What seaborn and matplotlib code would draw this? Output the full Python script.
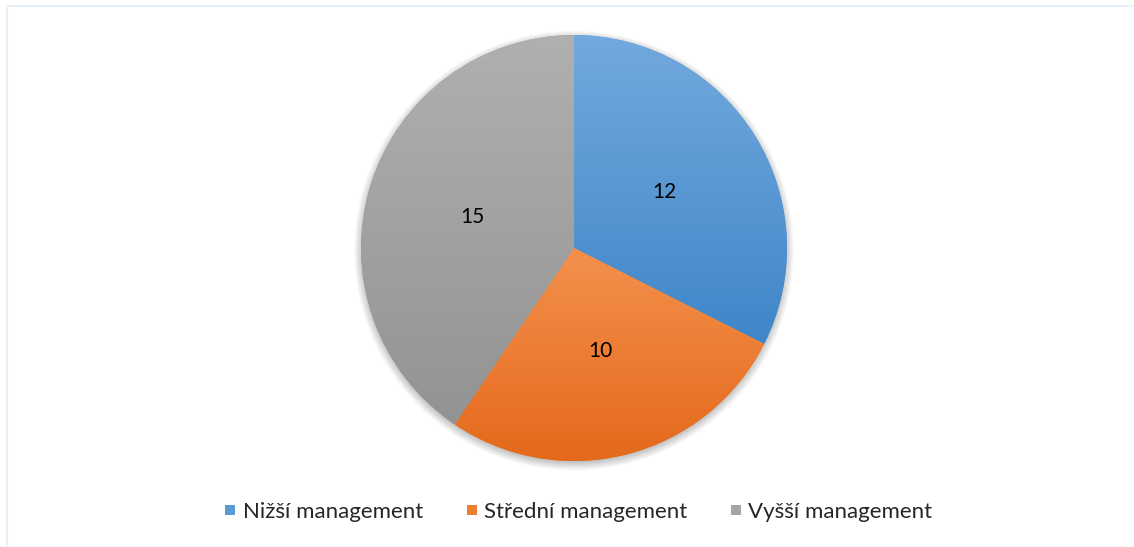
import numpy as np
import matplotlib.pyplot as plt
import matplotlib.patches as mpatches
from matplotlib.lines import Line2D
from matplotlib.colors import LinearSegmentedColormap
import seaborn as sns

categories = ["Nižší management", "Střední management", "Vyšší management"]
counts = [12, 10, 15]
base_colors = ["#5b9bd5", "#ed7d31", "#a5a5a5"]
top_colors = ["#72a9de", "#f4914d", "#b0b0b0"]
bottom_colors = ["#3f86c8", "#e4691b", "#939393"]

sns.set_theme(style="white")
plt.rcParams["font.family"] = ["Lato", "DejaVu Sans"]

W, H = 1134, 547
fig = plt.figure(figsize=(W / 100, H / 100), dpi=100)
fig.patch.set_facecolor("white")

# faint chart-area border
fig.patches.append(mpatches.Rectangle((7 / W, -0.01), 1, 1 - 6 / H + 0.01,
                                      transform=fig.transFigure, fill=False,
                                      edgecolor="#e8f0fa", lw=1.5))

cx, cy, r = 574, 248, 213
lim = 1.06
half = r * lim
ax = fig.add_axes([(cx - half) / W, (H - cy - half) / H, 2 * half / W, 2 * half / H])

wedges, texts, autotexts = ax.pie(
    counts, startangle=90, counterclock=False, colors=base_colors,
    autopct=lambda p: f"{p * sum(counts) / 100:.0f}", pctdistance=0.5,
    wedgeprops=dict(linewidth=0, zorder=2),
    textprops=dict(fontsize=15, color="black"))
for t in autotexts:
    t.set_zorder(5)

# soft drop shadow
g = np.linspace(-lim, lim, 500)
xx, yy = np.meshgrid(g, g)
rr = np.hypot(xx, yy + 0.012)
alpha = np.clip((1.035 - rr) / 0.05, 0, 1) * 0.5
shadow = np.zeros((500, 500, 4))
shadow[..., :3] = 0.45
shadow[..., 3] = alpha
ax.imshow(shadow, extent=(-lim, lim, -lim, lim), origin="lower", zorder=1,
          interpolation="bilinear")

# vertical gradient fill inside every wedge
for w, c_top, c_bot in zip(wedges, top_colors, bottom_colors):
    th = np.radians(np.linspace(w.theta1, w.theta2, 200))
    ys = np.concatenate([np.sin(th), [0]])
    y0, y1 = ys.min(), ys.max()
    cmap = LinearSegmentedColormap.from_list("g", [c_bot, c_top])
    grad = np.linspace(0, 1, 256).reshape(-1, 1)
    im = ax.imshow(grad, extent=(-1, 1, y0, y1), origin="lower", cmap=cmap,
                   aspect="auto", zorder=3)
    im.set_clip_path(w)

ax.set_xlim(-lim, lim)
ax.set_ylim(-lim, lim)
ax.set_aspect("equal")
ax.axis("off")

handles = [Line2D([], [], marker="s", linestyle="none", markersize=7.5,
                  markerfacecolor=c, markeredgewidth=0) for c in base_colors]
fig.legend(handles, categories, loc="center", bbox_to_anchor=(578 / W, 1 - 512 / H),
           ncol=3, frameon=False, fontsize=16, handlelength=0.6,
           handletextpad=0.25, columnspacing=1.9)

fig.savefig("out.png", dpi=100, facecolor="white")
